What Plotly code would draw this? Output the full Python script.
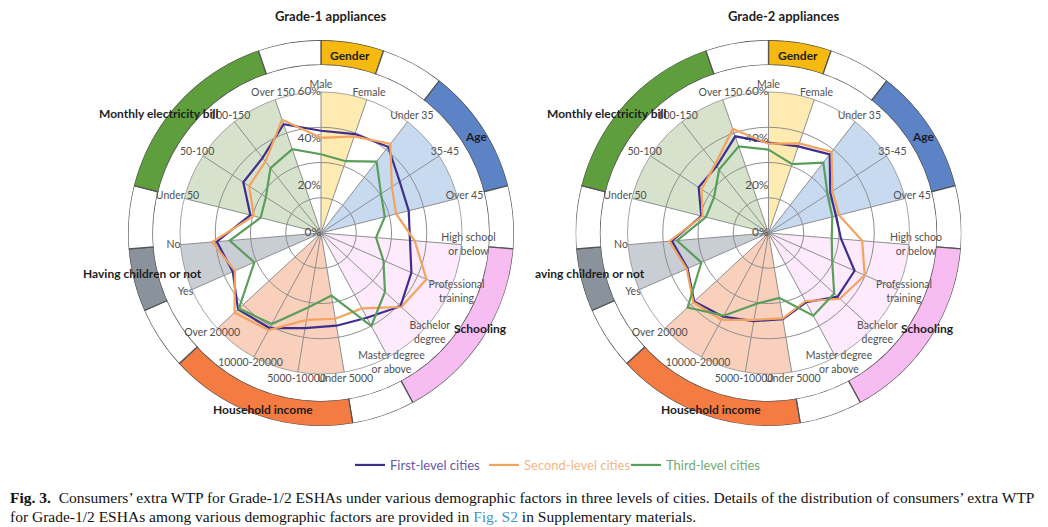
import plotly.graph_objects as go

# screen size; the page adds an 8px body margin, so the figure is drawn 8px in
SCREEN_W, SCREEN_H = 1048, 527
OFF = 8
FW, FH = SCREEN_W - OFF, SCREEN_H - OFF

# ---------------- data ----------------
categories = ["Male", "Female", "Under 35", "35-45", "Over 45",
              "High school<br>or below", "Professional<br>training", "Bachelor<br>degree",
              "Master degree<br>or above", "Under 5000", "5000-10000", "10000-20000",
              "Over 20000", "Yes", "No", "Under 50", "50-100", "100-150", "Over 150"]
categories_right = ["Male", "Female", "Under 35", "35-45", "Over 45",
                    "High schoo<br>or below", "Professional<br>training", "Bachelor<br>degree",
                    "Master degree<br>or above", "Under 5000", "5000-10000", "10000-20000",
                    "Over 20000", "Yes", "No", "Under 50", "50-100", "100-150", "Over 150"]

series_names = ["First-level cities", "Second-level cities", "Third-level cities"]

# Grade-1 appliances (extra WTP, %)
g1_first = [43.5, 44.5, 46.5, 40, 38.5, 38, 42, 46, 41, 40, 41, 46, 48, 41, 44.5, 31, 39.5, 40.5, 49]
g1_second = [40.5, 43.5, 48, 36, 33, 40, 49, 46.5, 36.5, 37, 37.5, 47, 50, 40, 46.5, 29.5, 36.5, 38.5, 51]
g1_third = [33.5, 32.3, 38.5, 30.5, 28, 23.5, 29, 37, 45, 27, 32, 44, 47.5, 31, 39, 26.5, 28, 35, 37.7]

# Grade-2 appliances (extra WTP, %)
g2_first = [38.5, 39, 42.4, 31.4, 29.6, 31, 40, 40, 33.5, 37.2, 38, 40.5, 43, 37.6, 41.2, 29.5, 35.5, 36, 43.5]
g2_second = [38, 40.3, 43.7, 32.5, 31, 40, 44.7, 41.3, 33, 36.8, 37.5, 42, 43.5, 38, 42.3, 29, 34, 37, 46.8]
g2_third = [35.5, 31, 38, 30, 28, 27, 29.6, 38, 40, 28, 30.5, 40, 46.8, 31.2, 39.1, 27.5, 27.7, 34.2, 39]

groups = ["Gender", "Age", "Schooling", "Household income",
          "Having children or not", "Monthly electricity bill"]
groups_right = ["Gender", "Age", "Schooling", "Household income",
                "aving children or not", "Monthly electricity bill"]
group_start = [0, 2, 5, 9, 13, 15]
group_end = [1, 4, 8, 12, 14, 18]

radial_grid = [15, 30, 45, 60]
radial_labels = [0, 20, 40, 60]

# ---------------- styles ----------------
line_colors = ["#3e2f8f", "#f2a35e", "#5a9e5c"]
legend_text_colors = ["#6a56a8", "#f3b888", "#72ab74"]
ring_colors = ["#f5b90f", "#5b83c6", "#f7bdf2", "#f47b42", "#8a939c", "#5e9e3c"]
fill_colors = ["#fdebb2", "#c8daf0", "#fdeafc", "#f9d0bc", "#c9cdd4", "#d6e2cb"]
grid_color = "#8f8f8f"
FONT = "Lato"

n = len(categories)
step = 360.0 / n
angles = [i * step for i in range(n)]

R_RADAR = 141
R_RING_OUT = 193
R_RING_IN = 168
LABEL_R = 148  # px, centre radius of category labels

# group label offsets (px, relative to centre, y downward)
group_label_offsets = [(29, -178), (155, -97), (159, 95), (-58, 176), (-179, 40), (-162, -120)]


def px(x):
    return (x - OFF) / FW


def py(y):
    return 1 - (y - OFF) / FH


def dom(cx, cy, R):
    return dict(x=[px(cx - R), px(cx + R)], y=[py(cy + R), py(cy - R)])


fig = go.Figure()


def add_chart(k, cx, cy, cats, values, gnames, title, title_x):
    ring = "polar" if k == 0 else "polar%d" % (3 * k + 1)
    shade = "polar%d" % (3 * k + 2)
    radar = "polar%d" % (3 * k + 3)
    rmax = radial_grid[-1]
    rmax_outer = rmax * R_RING_OUT / R_RADAR

    # outer ring segments
    seg_mid, seg_w, seg_col = [], [], []
    for g in range(len(groups)):
        a, b = group_start[g] * step, group_end[g] * step
        seg_mid.append((a + b) / 2); seg_w.append(b - a); seg_col.append(ring_colors[g])
        nxt = group_start[(g + 1) % len(groups)] * step
        if nxt <= b:
            nxt += 360
        seg_mid.append((b + nxt) / 2); seg_w.append(nxt - b); seg_col.append("white")
    fig.add_trace(go.Barpolar(r=[1] * len(seg_mid), theta=seg_mid, width=seg_w,
                              marker=dict(color=seg_col, line=dict(color="#555555", width=1.3)),
                              subplot=ring, showlegend=False, hoverinfo="skip"))

    # shaded group sectors
    mids = [(group_start[g] + group_end[g]) / 2 * step for g in range(len(groups))]
    widths = [(group_end[g] - group_start[g]) * step for g in range(len(groups))]
    fig.add_trace(go.Barpolar(r=[rmax] * len(groups), theta=mids, width=widths,
                              marker=dict(color=fill_colors, line=dict(width=0)),
                              subplot=shade, showlegend=False, hoverinfo="skip"))

    # category labels (inside the ring, centred on each spoke)
    fig.add_trace(go.Scatterpolar(r=[rmax * LABEL_R / R_RADAR] * n, theta=angles, text=cats,
                                  mode="text", textposition="middle center", cliponaxis=False,
                                  textfont=dict(family=FONT, size=10.5, color="#505050"),
                                  subplot=shade, showlegend=False, hoverinfo="skip"))

    # radial tick labels
    fig.add_trace(go.Scatterpolar(r=radial_labels, theta=[angles[0]] * len(radial_labels),
                                  text=["%d%%" % v for v in radial_labels], mode="text",
                                  textposition="middle left", cliponaxis=False,
                                  textfont=dict(family=FONT, size=12, color="#505050"),
                                  subplot=radar, showlegend=False, hoverinfo="skip"))

    # series lines
    for s, vals in enumerate(values):
        fig.add_trace(go.Scatterpolar(r=vals + [vals[0]], theta=angles + [angles[0]],
                                      mode="lines", name=series_names[s],
                                      line=dict(color=line_colors[s], width=2.2),
                                      subplot=radar, showlegend=(k == 0), cliponaxis=False,
                                      legend="legend" if s == 0 else "legend%d" % (s + 1)))

    hidden_ang = dict(type="linear", rotation=90, direction="clockwise", showgrid=False,
                      showline=False, showticklabels=False, ticks="")
    fig.update_layout(**{
        ring: dict(domain=dom(cx, cy, R_RING_OUT), bgcolor="rgba(0,0,0,0)",
                   hole=R_RING_IN / R_RING_OUT,
                   radialaxis=dict(range=[0, 1], visible=False),
                   angularaxis=hidden_ang),
        shade: dict(domain=dom(cx, cy, R_RING_OUT), bgcolor="rgba(0,0,0,0)",
                    radialaxis=dict(range=[0, rmax_outer], visible=False),
                    angularaxis=hidden_ang),
        radar: dict(domain=dom(cx, cy, R_RADAR), bgcolor="rgba(0,0,0,0)",
                    radialaxis=dict(range=[0, rmax], tickvals=radial_grid,
                                    showticklabels=False, ticks="", showline=False,
                                    showgrid=True, gridcolor=grid_color, gridwidth=0.8),
                    angularaxis=dict(type="linear", rotation=90, direction="clockwise",
                                     tickmode="array", tickvals=angles, showticklabels=False,
                                     showgrid=True, gridcolor=grid_color, gridwidth=0.8,
                                     showline=True, linecolor=grid_color, linewidth=0.8,
                                     ticks="")),
    })

    for g, name in enumerate(gnames):
        dx, dy = group_label_offsets[g]
        fig.add_annotation(x=px(cx + dx), y=py(cy + dy), xref="paper", yref="paper",
                           text="<b>%s</b>" % name, showarrow=False, xanchor="center",
                           yanchor="middle", font=dict(family=FONT, size=12, color="#1e1e1e"))
    fig.add_annotation(x=px(title_x), y=py(15.5), xref="paper", yref="paper",
                       text="<b>%s</b>" % title, showarrow=False, xanchor="center",
                       yanchor="middle", font=dict(family=FONT, size=13, color="#1e1e1e"))


add_chart(0, 321, 233, categories, [g1_first, g1_second, g1_third], groups,
          "Grade-1 appliances", 330)
add_chart(1, 768.5, 233, categories_right, [g2_first, g2_second, g2_third], groups_right,
          "Grade-2 appliances", 783)

legend_x = [350, 484, 626]
for s in range(3):
    key = "legend" if s == 0 else "legend%d" % (s + 1)
    fig.update_layout(**{key: dict(x=px(legend_x[s]), y=py(465), xanchor="left",
                                   yanchor="middle", orientation="h",
                                   bgcolor="rgba(0,0,0,0)",
                                   font=dict(family=FONT, size=13,
                                             color=legend_text_colors[s]))})

cap_font = dict(family="Liberation Serif", size=15.5, color="#111111")
fig.add_annotation(x=px(8), y=py(497), xref="paper", yref="paper", xanchor="left",
                   yanchor="middle", showarrow=False, font=cap_font,
                   text="<b>Fig. 3.</b>  Consumers\u2019 extra WTP for Grade-1/2 ESHAs under various "
                        "demographic factors in three levels of cities. Details of the distribution "
                        "of consumers\u2019 extra WTP")
fig.add_annotation(x=px(8), y=py(516), xref="paper", yref="paper", xanchor="left",
                   yanchor="middle", showarrow=False, font=cap_font,
                   text="for Grade-1/2 ESHAs among various demographic factors are provided in "
                        "<span style='color:#3f95c4'>Fig. S2</span> in Supplementary materials.")

fig.update_layout(width=FW, height=FH, margin=dict(l=0, r=0, t=0, b=0),
                  paper_bgcolor="white", plot_bgcolor="white")

fig.write_html("out.html")
